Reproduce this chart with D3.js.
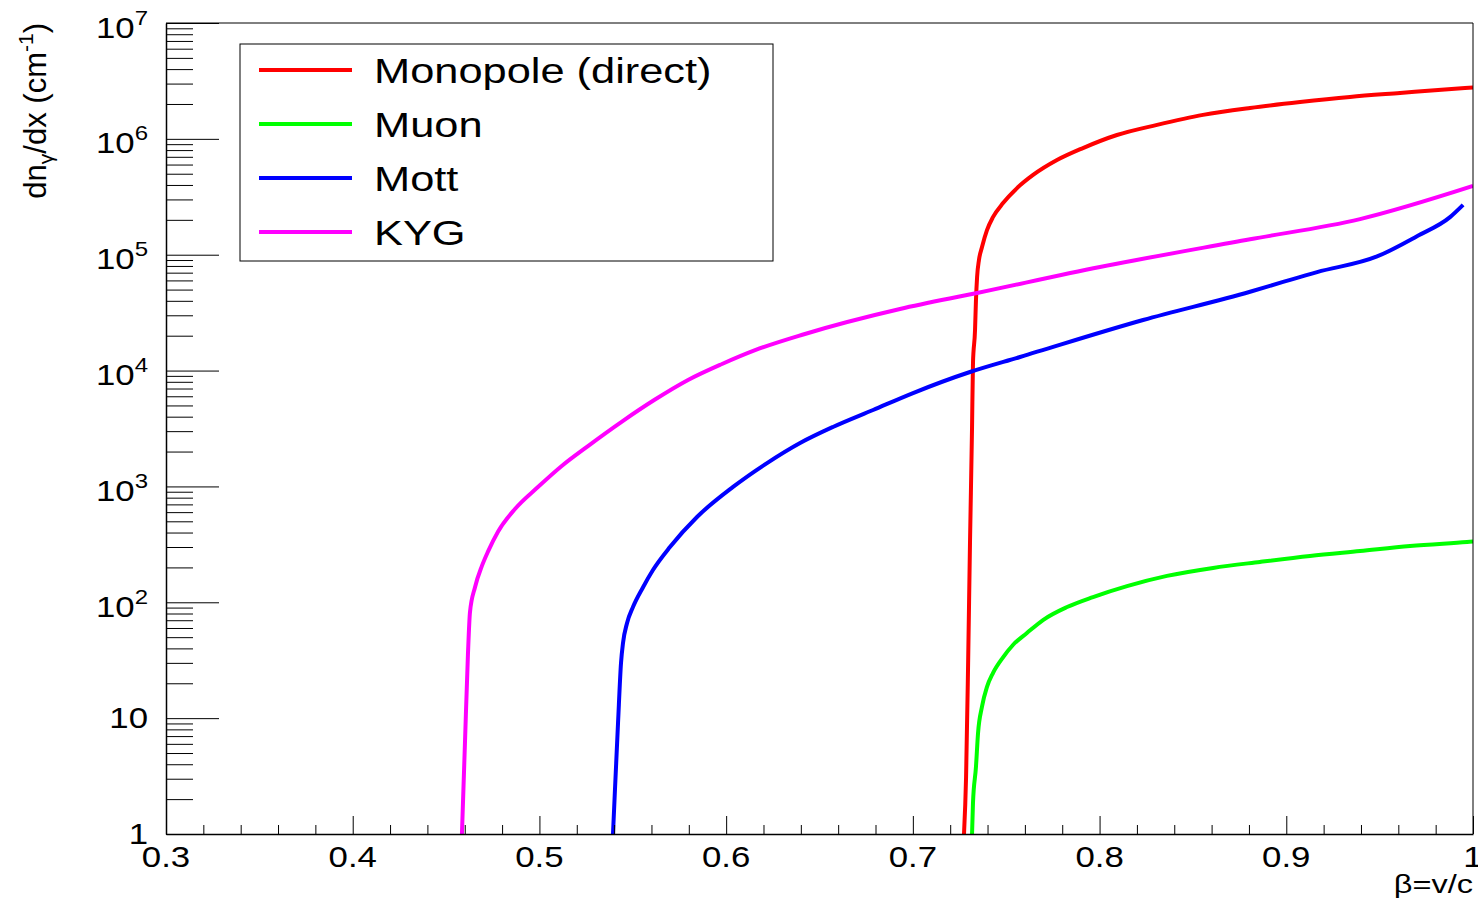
<!DOCTYPE html>
<html>
<head>
<meta charset="utf-8">
<script src="https://cdn.jsdelivr.net/npm/d3@7"></script>
<style>
body { margin:0; background:#fff; }
text { font-family: "Liberation Sans", Arial, sans-serif; fill:#000; }
</style>
</head>
<body>
<svg id="chart"></svg>
<script>
// values: beta = v/c against photon yield dn/dx (1/cm)
var betaMonopole = [0.7274, 0.7285, 0.7296, 0.7306, 0.7317, 0.7322, 0.7333, 0.7338, 0.7344, 0.7354, 0.7370, 0.7397, 0.7429, 0.7483, 0.7558, 0.7644, 0.7772, 0.7911, 0.8093, 0.8308, 0.8554, 0.8806, 0.9074, 0.9341, 0.9609, 0.9957, 1.0];
var yieldMonopole = [1, 3.1, 30, 325, 3260, 11600, 22400, 40600, 64200, 90000, 116000, 163000, 211000, 279000, 376000, 488000, 656000, 833000, 1.08e6, 1.32e6, 1.61e6, 1.85e6, 2.08e6, 2.30e6, 2.49e6, 2.75e6, 2.78e6];

var betaMuon = [0.7317, 0.7322, 0.7338, 0.7349, 0.7370, 0.7397, 0.7429, 0.7483, 0.7536, 0.7611, 0.7697, 0.7826, 0.7965, 0.8147, 0.8361, 0.8608, 0.8859, 0.9127, 0.9395, 0.9663, 0.9968, 1.0];
var yieldMuon = [1, 1.85, 3.8, 7.4, 12.5, 18.6, 24.5, 33.5, 42.8, 54.3, 70.3, 91, 111, 138, 169, 198, 223, 251, 277, 306, 331, 334];

var betaMott = [0.5394, 0.5405, 0.5421, 0.5437, 0.5448, 0.5469, 0.5501, 0.5555, 0.5608, 0.5699, 0.5844, 0.6037, 0.6219, 0.6396, 0.6572, 0.6787, 0.7001, 0.7306, 0.7574, 0.8233, 0.8806, 0.8983, 0.9165, 0.9486, 0.9700, 0.9877, 0.9947];
var yieldMott = [1, 2.5, 9.1, 30, 45, 66, 91, 135, 190, 300, 545, 990, 1590, 2370, 3260, 4570, 6400, 9720, 13100, 27300, 47900, 58200, 70800, 96600, 144500, 211000, 269000];

var betaKYG = [0.4585, 0.4601, 0.4617, 0.4628, 0.4655, 0.4692, 0.4725, 0.4778, 0.4869, 0.4992, 0.5121, 0.5260, 0.5442, 0.5619, 0.5796, 0.5978, 0.6155, 0.6422, 0.6931, 0.7344, 0.8002, 0.8806, 0.9395, 1.0];
var yieldKYG = [1, 6.0, 35, 82, 135, 206, 275, 407, 639, 988, 1510, 2232, 3630, 5620, 8290, 11400, 15000, 20700, 34000, 46700, 78300, 136000, 203000, 392000];

var seriesNames = ["Monopole (direct)", "Muon", "Mott", "KYG"];
var seriesColors = ["#ff0000", "#00ff00", "#0000ff", "#ff00ff"];

var xTicks = [0.3, 0.4, 0.5, 0.6, 0.7, 0.8, 0.9, 1.0];
var xTickLabels = ["0.3", "0.4", "0.5", "0.6", "0.7", "0.8", "0.9", "1"];
var yTicks = [1, 10, 1e2, 1e3, 1e4, 1e5, 1e6, 1e7];
var yTickBase = ["1", "10", "10", "10", "10", "10", "10", "10"];
var yTickExp = ["", "", "2", "3", "4", "5", "6", "7"];

//dimensions and margins of the graph
var w = 1478, h = 907;
var margin = {top:23, right:5, bottom:73, left:166},
width = w - margin.left - margin.right,
height = h - margin.top - margin.bottom;

// text in the original is a bit wider than it is tall
var stretch = 1.2;

var svg = d3.select("#chart")
.attr("width", w)
.attr("height", h);

svg.append("rect")
.attr("width", w)
.attr("height", h)
.attr("fill", "#fff");

var g = svg.append("g")
.attr("transform", "translate(" + margin.left + "," + margin.top + ")");

var x = d3.scaleLinear()
.domain([0.3, 1])
.range([0, width]);

var y = d3.scaleLog()
.domain([1, 1e7])
.range([height, 0]);

// clip curves to the frame
svg.append("defs").append("clipPath")
.attr("id", "frame-clip")
.append("rect")
.attr("width", width)
.attr("height", height);

// curves
var series = [
  {beta: betaMonopole, value: yieldMonopole},
  {beta: betaMuon, value: yieldMuon},
  {beta: betaMott, value: yieldMott},
  {beta: betaKYG, value: yieldKYG}
];

var line = d3.line()
.curve(d3.curveMonotoneX)
.x(function(d){ return x(d[0]); })
.y(function(d){ return y(d[1]); });

g.append("g")
.attr("clip-path", "url(#frame-clip)")
.selectAll("path")
.data(series)
.enter()
.append("path")
.attr("d", function(s){ return line(d3.zip(s.beta, s.value)); })
.attr("fill", "none")
.attr("stroke", function(s, i){ return seriesColors[i]; })
.attr("stroke-width", 4)
.attr("stroke-linejoin", "round");

// x axis, ticks point inward
var xMinor = d3.range(0.3, 1.0001, 0.02).filter(function(v){
  return Math.abs(v * 10 - Math.round(v * 10)) > 1e-6;
});

g.append("g")
.attr("transform", "translate(0," + height + ")")
.call(d3.axisBottom(x).tickValues(xMinor).tickSize(-9).tickSizeOuter(0).tickFormat(""))
.call(function(a){ a.select(".domain").attr("stroke-width", 1.5); });

g.append("g")
.attr("transform", "translate(0," + height + ")")
.call(d3.axisBottom(x).tickValues(xTicks).tickSize(-18).tickSizeOuter(0).tickFormat(""))
.call(function(a){ a.select(".domain").remove(); });

// y axis, log with minor ticks 2..9
var yMinor = [];
yTicks.slice(0, -1).forEach(function(d){
  for (var k = 2; k <= 9; k++) yMinor.push(d * k);
});

g.append("g")
.call(d3.axisLeft(y).tickValues(yMinor).tickSize(-27).tickSizeOuter(0).tickFormat(""))
.call(function(a){ a.select(".domain").attr("stroke-width", 1.5); });

g.append("g")
.call(d3.axisLeft(y).tickValues(yTicks).tickSize(-53).tickSizeOuter(0).tickFormat(""))
.call(function(a){ a.select(".domain").remove(); });

// top and right frame
g.append("path")
.attr("d", "M0,0H" + width + "V" + height)
.attr("fill", "none")
.attr("stroke", "#000")
.attr("stroke-width", 1);

// x tick labels
g.selectAll(".xlabel")
.data(xTicks)
.enter()
.append("g")
.attr("class", "xlabel")
.attr("transform", function(d){ return "translate(" + x(d) + "," + (height + 33) + ")scale(" + stretch + ",1)"; })
.append("text")
.attr("text-anchor", "middle")
.style("font-size", "29px")
.text(function(d, i){ return xTickLabels[i]; });

// y tick labels with superscript exponent
var yl = g.selectAll(".ylabel")
.data(yTicks)
.enter()
.append("g")
.attr("class", "ylabel")
.attr("transform", function(d, i){
  var dy = yTickExp[i] ? 14.5 : 9.5;
  return "translate(-18," + (y(d) + dy) + ")scale(" + stretch + ",1)";
})
.append("text")
.attr("text-anchor", "end")
.style("font-size", "29px");

yl.append("tspan")
.text(function(d, i){ return yTickBase[i]; });

yl.append("tspan")
.attr("dy", -13)
.style("font-size", "20px")
.text(function(d, i){ return yTickExp[i]; });

// axis titles
svg.append("g")
.attr("transform", "translate(" + (margin.left + width) + ",893)scale(1.3,1)")
.append("text")
.attr("text-anchor", "end")
.style("font-size", "25px")
.text("\u03b2=v/c");

var yt = svg.append("text")
.attr("transform", "translate(46," + margin.top + ")rotate(-90)")
.attr("text-anchor", "end")
.style("font-size", "31px");
yt.append("tspan").text("dn");
yt.append("tspan").attr("dy", 7).style("font-size", "21px").text("\u03b3");
yt.append("tspan").attr("dy", -7).text("/dx (cm");
yt.append("tspan").attr("dy", -13).style("font-size", "21px").text("-1");
yt.append("tspan").attr("dy", 13).text(")");

// legend
var legend = svg.append("g")
.attr("transform", "translate(240,44)");

legend.append("rect")
.attr("width", 533)
.attr("height", 217)
.attr("fill", "#fff")
.attr("stroke", "#000")
.attr("stroke-width", 1);

var entry = legend.selectAll(".entry")
.data(seriesNames)
.enter()
.append("g")
.attr("class", "entry")
.attr("transform", function(d, i){ return "translate(0," + (26 + i * 54) + ")"; });

entry.append("line")
.attr("x1", 19)
.attr("x2", 112)
.attr("stroke", function(d, i){ return seriesColors[i]; })
.attr("stroke-width", 4);

entry.append("g")
.attr("transform", "translate(134,12.5)scale(1.24,1)")
.append("text")
.style("font-size", "35px")
.text(function(d){ return d; });
</script>
</body>
</html>
